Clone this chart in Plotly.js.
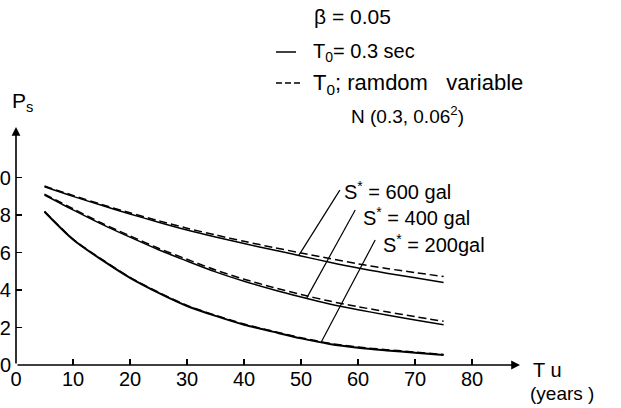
<!DOCTYPE html>
<html>
<head>
<meta charset="utf-8">
<script src="https://cdn.plot.ly/plotly-3.0.1.min.js"></script>
<style>
  html, body { margin: 0; padding: 0; background: #fff; }
  #chart { width: 621px; height: 408px; }
</style>
</head>
<body>
<div id="chart"></div>
<script>
// ---- data ----
const years = [5, 10, 15, 20, 25, 30, 35, 40, 45, 50, 55, 60, 65, 70, 75];
// S* = 600 gal
const ps600Fixed  = [0.951, 0.900, 0.852, 0.806, 0.762, 0.720, 0.683, 0.648, 0.615, 0.582, 0.548, 0.517, 0.490, 0.465, 0.440];
const ps600Random = [0.955, 0.905, 0.857, 0.812, 0.770, 0.730, 0.694, 0.660, 0.628, 0.598, 0.568, 0.540, 0.515, 0.493, 0.472];
// S* = 400 gal
const ps400Fixed  = [0.907, 0.828, 0.752, 0.682, 0.615, 0.555, 0.497, 0.447, 0.403, 0.363, 0.326, 0.295, 0.267, 0.240, 0.215];
const ps400Random = [0.912, 0.834, 0.758, 0.689, 0.623, 0.564, 0.507, 0.458, 0.415, 0.376, 0.341, 0.311, 0.284, 0.258, 0.233];
// S* = 200 gal
const ps200Fixed  = [0.818, 0.670, 0.562, 0.465, 0.385, 0.315, 0.262, 0.215, 0.178, 0.142, 0.112, 0.092, 0.078, 0.066, 0.053];
const ps200Random = [0.820, 0.672, 0.565, 0.468, 0.388, 0.318, 0.265, 0.219, 0.181, 0.146, 0.116, 0.096, 0.082, 0.069, 0.056];

const xTickVals = [0, 10, 20, 30, 40, 50, 60, 70, 80];
const xTickText = ['0', '10', '20', '30', '40', '50', '60', '70', '80'];
const yTickVals = [0, 0.2, 0.4, 0.6, 0.8, 1.0];
const yTickText = ['0', '0.2', '0.4', '0.6', '0.8', '1.0'];

// ---- layout helpers ----
const W = 621, H = 408;
const M = { l: 16, r: 101, t: 127, b: 43 };
const plotW = W - M.l - M.r, plotH = H - M.t - M.b;
const PX = px => (px - M.l) / plotW;          // pixel -> paper x
const PY = py => (H - M.b - py) / plotH;      // pixel -> paper y

const FONT = 'Liberation Sans, Arial, sans-serif';
const black = '#000';

function line(x, y, dashed, w) {
  return {
    x: x, y: y, type: 'scatter', mode: 'lines',
    line: { color: black, width: w || 1.5, dash: dashed ? '8px,4px' : 'solid', shape: 'spline', smoothing: 0.8 },
    hoverinfo: 'skip'
  };
}

const traces = [
  line(years, ps600Fixed, false),
  line(years, ps600Random, true),
  line(years, ps400Fixed, false),
  line(years, ps400Random, true),
  line(years, ps200Fixed, false, 2),
  line(years, ps200Random, true, 1.5)
];

function txt(text, pxLeft, pyMid, size) {
  return {
    xref: 'paper', yref: 'paper', x: PX(pxLeft), y: PY(pyMid),
    xanchor: 'left', yanchor: 'middle', showarrow: false,
    text: text, font: { family: FONT, size: size || 20, color: black }
  };
}

const annotations = [
  // axis arrows
  { xref: 'x', yref: 'y', axref: 'x', ayref: 'y', x: 88.4, y: 0, ax: 0, ay: 0, text: '',
    showarrow: true, arrowhead: 2, arrowsize: 1.1, arrowwidth: 1.6, arrowcolor: black, standoff: 0 },
  { xref: 'x', yref: 'y', axref: 'x', ayref: 'y', x: 0, y: 1.27, ax: 0, ay: 0, text: '',
    showarrow: true, arrowhead: 2, arrowsize: 1.1, arrowwidth: 1.6, arrowcolor: black, standoff: 0 },
  // header notes
  txt('β = 0.05', 312, 16, 21),
  txt('T<sub>0</sub>= 0.3 sec', 311, 52, 20),
  txt('T<sub>0</sub>; ramdom\u00a0\u00a0\u00a0variable', 311, 84, 22),
  txt('N (0.3, 0.06<sup>2</sup>)', 349, 115, 19),
  // curve labels
  txt('S<sup>*</sup> = 600 gal', 342, 190, 20),
  txt('S<sup>*</sup> = 400 gal', 361, 216, 20),
  txt('S<sup>*</sup> = 200gal', 381, 243, 20),
  // axis titles
  txt('P<sub>s</sub>', 10, 102, 21),
  txt('T u', 531, 370, 20),
  txt('(years )', 528, 393, 19)
];

const shapes = [
  // legend line samples
  { type: 'line', xref: 'paper', yref: 'paper', x0: PX(276), x1: PX(296), y0: PY(52), y1: PY(52),
    line: { color: black, width: 1.5 } },
  { type: 'line', xref: 'paper', yref: 'paper', x0: PX(276), x1: PX(301), y0: PY(83), y1: PY(83),
    line: { color: black, width: 1.5, dash: '6px,3px' } },
  // leader lines
  { type: 'line', xref: 'x', yref: 'y', x0: 56.8, y0: 0.933, x1: 49.6, y1: 0.585, line: { color: black, width: 1.2 } },
  { type: 'line', xref: 'x', yref: 'y', x0: 59.5, y0: 0.827, x1: 51.0, y1: 0.358, line: { color: black, width: 1.2 } },
  { type: 'line', xref: 'x', yref: 'y', x0: 63.0, y0: 0.667, x1: 53.5, y1: 0.120, line: { color: black, width: 1.2 } }
];

const layout = {
  width: W, height: H,
  margin: M,
  paper_bgcolor: '#fff', plot_bgcolor: '#fff',
  showlegend: false,
  font: { family: FONT, size: 20, color: black },
  xaxis: {
    range: [0, 88.4], tickmode: 'array', tickvals: xTickVals, ticktext: xTickText,
    ticks: 'inside', ticklen: 6, tickwidth: 1.5, tickcolor: black,
    showgrid: false, zeroline: false, showline: false,
    tickfont: { family: FONT, size: 20, color: black }, ticklabelstandoff: 0
  },
  yaxis: {
    range: [0, 1.27], tickmode: 'array', tickvals: yTickVals, ticktext: yTickText,
    ticks: 'inside', ticklen: 6, tickwidth: 1.5, tickcolor: black,
    showgrid: false, zeroline: false, showline: false,
    tickfont: { family: FONT, size: 20, color: black }, ticklabelstandoff: 4
  },
  annotations: annotations,
  shapes: shapes
};

Plotly.newPlot('chart', traces, layout, { staticPlot: true, displayModeBar: false });
</script>
</body>
</html>
